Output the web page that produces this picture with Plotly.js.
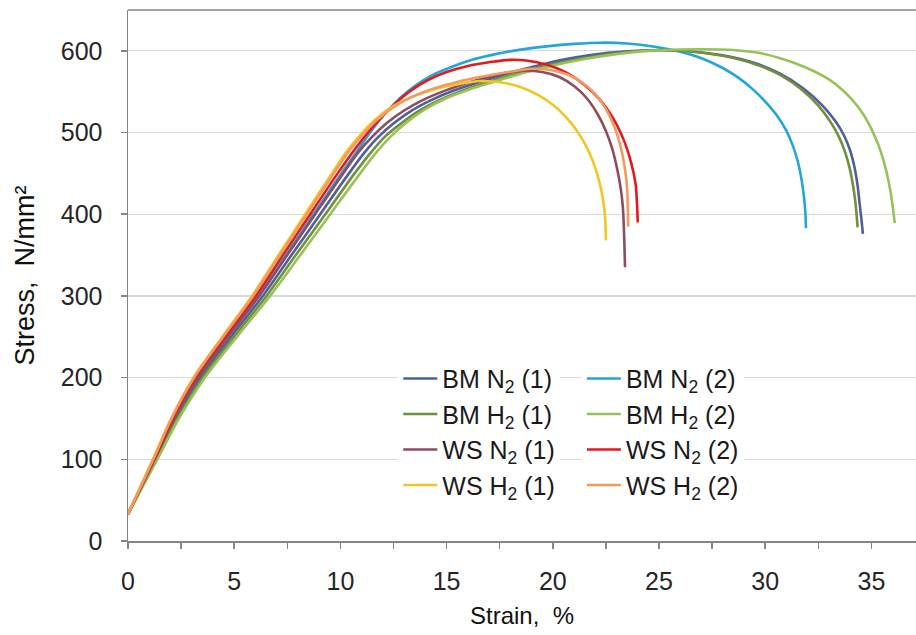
<!DOCTYPE html>
<html>
<head>
<meta charset="utf-8">
<script src="https://cdn.plot.ly/plotly-3.0.1.min.js"></script>
<style>html,body{margin:0;padding:0;background:#fff;}#chart{width:916px;height:635px;}</style>
</head>
<body>
<div id="chart"></div>
<script>
// ---- Data (strain %, stress N/mm²) ----
const seriesNames = ["BM N<sub>2</sub> (1)", "BM N<sub>2</sub> (2)", "BM H<sub>2</sub> (1)", "BM H<sub>2</sub> (2)",
                     "WS N<sub>2</sub> (1)", "WS N<sub>2</sub> (2)", "WS H<sub>2</sub> (1)", "WS H<sub>2</sub> (2)"];

const bmN2_1_x = [0, 1.3, 2.25, 3.4, 4.85, 6.35, 7.7, 9.05, 10.4, 11.15, 11.8, 12.5, 13.3, 14.3, 15.4, 16.7, 18.1, 19.6, 21.1, 22.6, 24.2, 25.3, 26.0, 28.0, 29.5, 30.7, 31.8, 32.7, 33.3, 33.7, 34.0, 34.2, 34.35, 34.45, 34.53, 34.6];
const bmN2_1_y = [33, 100, 150, 200, 250, 300, 350, 400, 450, 476, 495, 511, 526, 540, 552, 563, 574, 584, 592, 597.5, 600.5, 601, 600.5, 594.5, 585, 572, 554, 533, 514, 497, 478, 458, 435, 412, 394, 376];

const bmN2_2_x = [0, 1.24, 2.15, 3.26, 4.67, 6.12, 7.43, 8.73, 10.04, 10.75, 11.4, 12.1, 12.8, 13.5, 14.3, 15.2, 16.2, 17.3, 18.5, 19.7, 21.0, 22.3, 23.5, 24.8, 26.0, 27.0, 28.0, 28.8, 29.5, 30.1, 30.6, 31.0, 31.3, 31.55, 31.72, 31.83, 31.89, 31.92];
const bmN2_2_y = [33, 100, 150, 200, 250, 300, 350, 400, 450, 476, 500, 523, 542, 557, 570, 580, 589, 596, 601.5, 605.5, 608.5, 610, 609, 605, 599, 591, 579, 566, 551, 535, 519, 502, 484, 463, 441, 420, 402, 383];

const bmH2_1_x = [0, 1.34, 2.33, 3.51, 4.99, 6.52, 7.9, 9.29, 10.67, 11.45, 12.1, 12.8, 13.6, 14.6, 15.7, 17.0, 18.4, 19.9, 21.4, 23.0, 24.5, 26.0, 28.0, 29.5, 30.7, 31.7, 32.5, 33.05, 33.45, 33.75, 33.97, 34.13, 34.24, 34.3, 34.35];
const bmH2_1_y = [33, 100, 150, 200, 250, 300, 350, 400, 450, 476, 495, 510, 525, 539, 551, 562, 573, 583, 591, 597, 600.5, 600.2, 594, 584, 570.5, 553, 533, 514, 496, 477, 457, 436, 416, 400, 384];

const bmH2_2_x = [0, 1.38, 2.4, 3.62, 5.13, 6.69, 8.11, 9.52, 10.93, 11.7, 12.4, 13.1, 13.9, 14.9, 16.0, 17.2, 18.5, 20.0, 21.5, 23.0, 24.5, 26.0, 27.0, 28.5, 29.8, 30.7, 31.5, 32.3, 33.0, 33.6, 34.1, 34.5, 34.85, 35.15, 35.45, 35.7, 35.9, 36.0, 36.1];
const bmH2_2_y = [33, 100, 150, 200, 250, 300, 350, 400, 450, 476, 496, 512, 527, 541, 552, 562, 572, 582, 590, 596, 600, 601.7, 602, 601, 597, 591, 584, 575, 565, 553, 540, 527, 512, 496, 476, 453, 428, 410, 389];

const wsN2_1_x = [0, 1.26, 2.18, 3.29, 4.71, 6.18, 7.5, 8.81, 10.13, 10.85, 11.5, 12.2, 13.0, 13.9, 14.9, 16.0, 17.0, 17.8, 18.5, 19.5, 20.3, 21.0, 21.6, 22.1, 22.5, 22.8, 23.05, 23.2, 23.3, 23.35, 23.38, 23.4];
const wsN2_1_y = [33, 100, 150, 200, 250, 300, 350, 400, 450, 476, 495, 512, 527, 540, 551, 561, 568, 573, 575.5, 574, 568, 557, 542, 523, 502, 480, 453, 431, 408, 380, 355, 335];

const wsN2_2_x = [0, 1.22, 2.1, 3.18, 4.57, 6.01, 7.29, 8.58, 9.87, 10.55, 11.2, 11.9, 12.6, 13.3, 14.1, 15.0, 16.0, 17.0, 18.0, 19.2, 20.2, 21.1, 21.9, 22.5, 23.0, 23.4, 23.7, 23.9, 23.96, 24.0];
const wsN2_2_y = [33, 100, 150, 200, 250, 300, 350, 400, 450, 475, 497, 518, 536, 551, 564, 574, 581.5, 586, 589, 586.4, 578.7, 566, 549, 531, 510, 487, 462, 437, 415, 390];

const wsH2_1_x = [0, 1.17, 2.03, 3.08, 4.44, 5.84, 7.09, 8.34, 9.6, 10.3, 10.9, 11.6, 12.4, 13.3, 14.3, 15.4, 16.6, 17.6, 18.5, 19.3, 20.0, 20.6, 21.1, 21.5, 21.9, 22.2, 22.4, 22.47, 22.5];
const wsH2_1_y = [33, 100, 150, 200, 250, 300, 350, 400, 450, 477, 496, 515, 531, 543, 552, 558.5, 563, 561.2, 555.5, 546, 534, 519.6, 503.5, 486.7, 464, 439, 411.6, 393, 368];

const wsH2_2_x = [0, 1.19, 2.05, 3.11, 4.48, 5.89, 7.16, 8.42, 9.69, 10.4, 11.0, 11.7, 12.5, 13.4, 14.4, 15.5, 16.7, 17.9, 19.0, 19.9, 20.7, 21.4, 22.0, 22.5, 22.9, 23.2, 23.4, 23.5, 23.53, 23.55];
const wsH2_2_y = [33, 100, 150, 200, 250, 300, 350, 400, 450, 477, 496, 515, 531, 544, 554, 562, 568.5, 574, 578, 576.6, 571, 561, 547, 529, 507, 482, 455, 430.7, 408, 385];

const xTickVals = [0, 5, 10, 15, 20, 25, 30, 35];
const xTickText = ["0", "5", "10", "15", "20", "25", "30", "35"];
const yTickVals = [0, 100, 200, 300, 400, 500, 600];

const colors = ["#4d5f9c", "#23a6d9", "#728f3c", "#97c257", "#8c4d5c", "#e4191f", "#f3c622", "#f49a5e"];

const xs = [bmN2_1_x, bmN2_2_x, bmH2_1_x, bmH2_2_x, wsN2_1_x, wsN2_2_x, wsH2_1_x, wsH2_2_x];
const ys = [bmN2_1_y, bmN2_2_y, bmH2_1_y, bmH2_2_y, wsN2_1_y, wsN2_2_y, wsH2_1_y, wsH2_2_y];

const traces = [];
for (let i = 0; i < 8; i++) {
  traces.push({
    type: "scatter", mode: "lines",
    x: xs[i], y: ys[i], name: seriesNames[i],
    line: {color: colors[i], width: 2.6, shape: "spline", smoothing: 0.9},
    legend: (i % 2 === 0) ? "legend" : "legend2",
    legendgroup: "g" + i,
    hoverinfo: "skip"
  });
}

const legendCommon = {
  font: {family: "Liberation Sans, Arial, sans-serif", size: 25, color: "#1a1a1a"},
  bgcolor: "#ffffff", borderwidth: 0, tracegroupgap: 3.5, itemwidth: 34,
  xanchor: "left", yanchor: "top", traceorder: "normal"
};

const layout = {
  width: 916, height: 635,
  margin: {l: 128, r: 0, t: 10, b: 94},
  paper_bgcolor: "#ffffff", plot_bgcolor: "#ffffff",
  font: {family: "Liberation Sans, Arial, sans-serif", size: 24, color: "#262626"},
  showlegend: true,
  legend: Object.assign({}, legendCommon, {x: 0.343, y: 0.349}),
  legend2: Object.assign({}, legendCommon, {x: 0.576, y: 0.349}),
  xaxis: {
    range: [0, 37.1], tickmode: "array", tickvals: xTickVals, ticktext: xTickText,
    ticks: "outside", ticklen: 6, tickwidth: 1.5, tickcolor: "#868686",
    minor: {dtick: 2.5, tick0: 0, ticks: "outside", ticklen: 6, tickwidth: 1.5, tickcolor: "#868686", showgrid: false},
    showline: true, linecolor: "#868686", linewidth: 1.5,
    showgrid: false, zeroline: false, ticklabelstandoff: 11,
    tickfont: {size: 25, color: "#262626"},
    title: {text: "Strain,\u00a0\u00a0%", font: {size: 24, color: "#111"}, standoff: 13}
  },
  yaxis: {
    range: [0, 650], tickmode: "array", tickvals: yTickVals,
    ticks: "outside", ticklen: 6, tickwidth: 1.5, tickcolor: "#868686",
    showline: true, linecolor: "#868686", linewidth: 1.5,
    showgrid: true, gridcolor: "#d9d9d9", gridwidth: 1.2, zeroline: false,
    ticklabelstandoff: 13,
    tickfont: {size: 25, color: "#262626"},
    title: {text: "Stress,\u00a0\u00a0N/mm²", font: {size: 27, color: "#111"}, standoff: 18}
  },
  shapes: [{type: "line", xref: "paper", yref: "paper", x0: 0, x1: 1, y0: 1, y1: 1,
            line: {color: "#898989", width: 1.5}}]
};

Plotly.newPlot("chart", traces, layout, {staticPlot: true, displayModeBar: false});
</script>
</body>
</html>
